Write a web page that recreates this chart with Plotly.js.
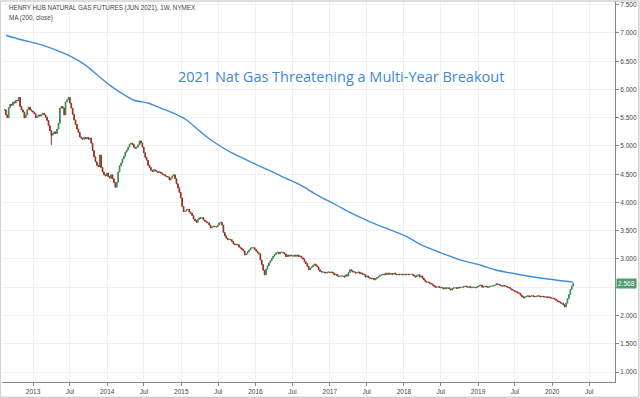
<!DOCTYPE html>
<html>
<head>
<meta charset="utf-8">
<script src="https://cdn.plot.ly/plotly-3.0.1.min.js"></script>
<style>
html,body{margin:0;padding:0;background:#fff;}
#chart{width:640px;height:398px;}
</style>
</head>
<body>
<div id="chart"></div>
<script>
// Weekly closes, first bar week of 2012-08-13
const firstBar = "2012-08-13";
const closes = [
5.64,5.55,5.50,5.68,5.74,5.72,5.78,5.76,5.81,5.80,
5.86,5.70,5.64,5.60,5.50,5.55,5.64,5.69,5.64,5.62,
5.60,5.57,5.50,5.52,5.55,5.53,5.56,5.58,5.55,5.51,
5.45,5.36,5.27,5.19,5.22,5.25,5.22,5.30,5.40,5.67,
5.70,5.67,5.55,5.78,5.82,5.86,5.76,5.67,5.56,5.46,
5.38,5.30,5.24,5.16,5.14,5.12,5.15,5.13,5.15,5.12,
5.14,5.05,4.92,4.81,4.72,4.66,4.63,4.84,4.62,4.54,
4.49,4.47,4.52,4.46,4.43,4.49,4.42,4.35,4.27,4.36,
4.54,4.65,4.70,4.77,4.82,4.89,4.93,4.98,5.03,5.05,
5.03,4.98,4.96,4.98,5.02,5.09,5.05,4.98,4.88,4.80,
4.75,4.66,4.62,4.57,4.55,4.58,4.56,4.55,4.53,4.54,
4.52,4.50,4.49,4.47,4.46,4.45,4.40,4.43,4.47,4.49,
4.42,4.33,4.26,4.18,4.08,3.93,3.84,3.85,3.87,3.88,
3.83,3.81,3.77,3.71,3.68,3.65,3.70,3.73,3.72,3.73,
3.69,3.67,3.65,3.64,3.60,3.55,3.57,3.58,3.57,3.57,
3.60,3.64,3.65,3.60,3.47,3.41,3.37,3.34,3.35,3.34,
3.31,3.27,3.25,3.26,3.25,3.21,3.19,3.17,3.14,3.07,
3.09,3.13,3.16,3.19,3.20,3.20,3.17,3.14,3.11,3.09,
2.98,2.90,2.80,2.72,2.82,2.88,2.93,2.97,3.01,3.05,
3.08,3.11,3.12,3.09,3.12,3.12,3.11,3.09,3.04,3.07,
3.05,3.07,3.06,3.05,3.07,3.05,3.07,3.04,3.05,3.02,
3.00,2.95,2.92,2.87,2.81,2.84,2.86,2.89,2.91,2.88,
2.86,2.81,2.78,2.77,2.77,2.76,2.75,2.77,2.77,2.76,
2.77,2.75,2.72,2.73,2.70,2.69,2.70,2.70,2.70,2.68,
2.72,2.70,2.76,2.81,2.79,2.77,2.77,2.75,2.76,2.77,
2.74,2.75,2.73,2.72,2.68,2.70,2.67,2.66,2.65,2.66,
2.63,2.65,2.67,2.69,2.71,2.72,2.73,2.72,2.75,2.73,
2.75,2.73,2.74,2.73,2.75,2.73,2.72,2.73,2.72,2.73,
2.72,2.73,2.72,2.73,2.72,2.73,2.73,2.72,2.70,2.68,
2.71,2.72,2.68,2.70,2.66,2.63,2.60,2.59,2.59,2.57,
2.56,2.54,2.52,2.50,2.50,2.51,2.50,2.49,2.49,2.47,
2.49,2.48,2.49,2.47,2.45,2.48,2.49,2.49,2.48,2.50,
2.49,2.50,2.50,2.51,2.52,2.51,2.50,2.51,2.49,2.50,
2.50,2.49,2.50,2.52,2.53,2.54,2.50,2.51,2.52,2.51,
2.50,2.51,2.52,2.52,2.53,2.54,2.56,2.55,2.54,2.53,
2.52,2.53,2.52,2.51,2.50,2.49,2.47,2.45,2.44,2.42,
2.42,2.40,2.39,2.36,2.33,2.31,2.33,2.34,2.35,2.33,
2.34,2.35,2.34,2.33,2.34,2.35,2.34,2.33,2.34,2.33,
2.33,2.32,2.33,2.32,2.31,2.31,2.30,2.29,2.27,2.25,
2.24,2.22,2.22,2.19,2.15,2.22,2.30,2.37,2.46,2.52,2.568
];
// notable long lower wicks: week number -> low
const wickWeeks = [33];
const wickLows = [5.02];

// 200-week moving average, read at selected weeks
const maWeeks = [1,12,26,36,47,57,68,75,82,91,101,110,119,128,138,145,159,173,187,196,208,220,233,244,258,272,282,293,307,321,335,345,363,381,400];
const maValues = [6.96,6.88,6.79,6.70,6.58,6.43,6.20,6.06,5.94,5.81,5.76,5.67,5.58,5.46,5.25,5.11,4.89,4.72,4.56,4.45,4.31,4.13,3.96,3.81,3.65,3.51,3.41,3.25,3.11,2.98,2.89,2.81,2.72,2.65,2.59];

const tickDates = ["2013-01-01","2013-07-01","2014-01-01","2014-07-01","2015-01-01","2015-07-01","2016-01-01","2016-07-01","2017-01-01","2017-07-01","2018-01-01","2018-07-01","2019-01-01","2019-07-01","2020-01-01","2020-07-01"];
const tickLabels = ["2013","Jul","2014","Jul","2015","Jul","2016","Jul","2017","Jul","2018","Jul","2019","Jul","2020","Jul"];
const priceTicks = [1,1.5,2,2.5,3,3.5,4,4.5,5,5.5,6,6.5,7,7.5];
// the 2.500 label sits under the last-price box in the reference
const priceLabels = ["1.000","1.500","2.000","","3.000","3.500","4.000","4.500","5.000","5.500","6.000","6.500","7.000","7.500"];

const seriesTitle = "HENRY HUB NATURAL GAS FUTURES (JUN 2021), 1W, NYMEX";
const maTitle = "MA (200, close)";
const chartTitle = "2021 Nat Gas Threatening a Multi-Year Breakout";
const lastLabel = "2.568";

function weekDate(i){
  const t = Date.UTC(2012,7,13) + i*7*86400000;
  return new Date(t).toISOString().slice(0,10);
}
const x = closes.map((c,i)=>weekDate(i));
const open = closes.map((c,i)=> i===0 ? c : closes[i-1]);
const high = closes.map((c,i)=> Math.max(c, open[i]));
const low = closes.map((c,i)=> Math.min(c, open[i]));
wickWeeks.forEach((w,k)=>{ low[w] = wickLows[k]; });

const font = "Liberation Sans, Arial, sans-serif";

const traces = [
  {
    type:"candlestick", x:x, open:open, high:high, low:low, close:closes,
    increasing:{line:{color:"#3f8a57",width:1},fillcolor:"#3f8a57"},
    decreasing:{line:{color:"#9a2e24",width:1},fillcolor:"#9a2e24"},
    whiskerwidth:0, hoverinfo:"skip", showlegend:false
  },
  {
    type:"scatter", mode:"lines", x:maWeeks.map(weekDate), y:maValues,
    line:{color:"#3f8de0",width:1.4, shape:"spline", smoothing:0.6},
    hoverinfo:"skip", showlegend:false
  }
];

const layout = {
  width:640, height:398,
  margin:{l:2,r:25,t:1,b:16},
  paper_bgcolor:"#ffffff", plot_bgcolor:"#ffffff",
  showlegend:false,
  xaxis:{
    type:"date", range:["2012-08-01","2020-11-05"],
    rangeslider:{visible:false},
    tickvals:tickDates, ticktext:tickLabels,
    showgrid:true, gridcolor:"#f0f0f0", gridwidth:1,
    ticks:"outside", ticklen:3, tickcolor:"#888",
    tickfont:{family:font,size:6.5,color:"#444"},
    showline:true, linecolor:"#888", linewidth:1,
    zeroline:false, fixedrange:true
  },
  yaxis:{
    side:"right", range:[0.823,7.566],
    tickvals:priceTicks, ticktext:priceLabels,
    showgrid:true, gridcolor:"#f0f0f0", gridwidth:1,
    ticks:"outside", ticklen:3, tickcolor:"#888",
    tickfont:{family:font,size:6.5,color:"#444"},
    showline:true, linecolor:"#888", linewidth:1,
    zeroline:false, fixedrange:true
  },
  annotations:[
    {xref:"paper",yref:"paper",x:0.008,y:0.997,xanchor:"left",yanchor:"top",showarrow:false,
     text:seriesTitle,font:{family:font,size:6.3,color:"#444"}},
    {xref:"paper",yref:"paper",x:0.008,y:0.972,xanchor:"left",yanchor:"top",showarrow:false,
     text:maTitle,font:{family:font,size:6.3,color:"#444"}},
    {xref:"paper",yref:"paper",x:0.553,y:0.803,xanchor:"center",yanchor:"middle",showarrow:false,
     text:chartTitle,font:{family:"Open Sans, sans-serif",size:14.5,color:"#3d88d8"}},
    {xref:"paper",yref:"y",x:1,y:2.568,xanchor:"left",yanchor:"middle",xshift:1,showarrow:false,
     text:lastLabel,bgcolor:"#4f9a6e",borderpad:1,font:{family:font,size:6.5,color:"#ffffff"}}
  ],
  shapes:[
    {type:"rect",xref:"paper",yref:"paper",x0:-0.003,x1:1.039,y0:-0.04,y1:1.0,line:{color:"#bbb",width:1},fillcolor:"rgba(0,0,0,0)"}
  ]
};

Plotly.newPlot("chart", traces, layout, {staticPlot:true, displayModeBar:false});
</script>
</body>
</html>
